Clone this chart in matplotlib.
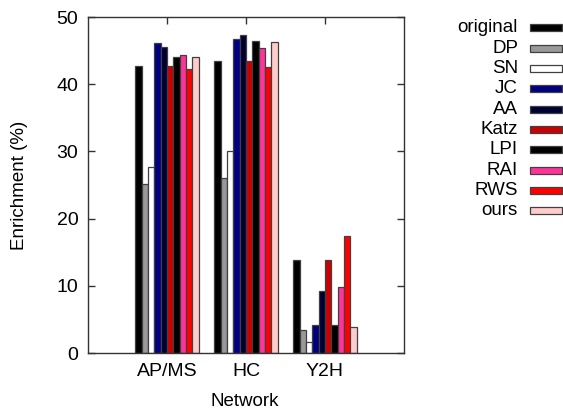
import numpy as np
import matplotlib
matplotlib.use('Agg')
import matplotlib.pyplot as plt
from matplotlib.patches import Rectangle

plt.rcParams['font.family'] = ['Liberation Sans', 'DejaVu Sans']

# data
networks = ['AP/MS', 'HC', 'Y2H']
methods = ['original', 'DP', 'SN', 'JC', 'AA', 'Katz', 'LPI', 'RAI', 'RWS', 'ours']
colors = ['#000000', '#999999', '#ffffff', '#000080', '#000033',
          '#cc0000', '#000000', '#ff3399', '#ff0000', '#ffcccc']
enrichment = {
    'original': [42.7, 43.4, 13.8],
    'DP':       [25.1, 26.0, 3.4],
    'SN':       [27.7, 30.0, 1.6],
    'JC':       [46.1, 46.8, 4.2],
    'AA':       [45.6, 47.3, 9.2],
    'Katz':     [42.7, 43.4, 13.8],
    'LPI':      [44.1, 46.4, 4.2],
    'RAI':      [44.4, 45.4, 9.8],
    'RWS':      [42.3, 42.5, 17.4],
    'ours':     [44.1, 46.3, 3.8],
}

W, H = 563, 415
fig = plt.figure(figsize=(W / 100, H / 100), dpi=100)
ax = fig.add_axes([88 / W, 1 - 353 / H, 316 / W, 336 / H])

x = np.arange(1, len(networks) + 1)
bw = 0.08
edge = '#404040'
for i, m in enumerate(methods):
    ax.bar(x + (i - 4.5) * bw, enrichment[m], width=bw, color=colors[i],
           edgecolor=edge, linewidth=0.9, zorder=2)

ax.set_xlim(0, 4)
ax.set_ylim(0, 50)
ax.set_xticks(x)
ax.set_xticklabels(networks)
ax.set_yticks(np.arange(0, 51, 10))
ax.tick_params(direction='in', length=5, width=1, color='#333333',
               labelsize=14, top=True, right=True, bottom=False, pad=7)
for s in ax.spines.values():
    s.set_color('#333333')
    s.set_linewidth(1)

fig.text(245 / W, 1 - 401 / H, 'Network', ha='center', va='center', fontsize=13.5)
fig.text(20 / W, 1 - 185 / H, 'Enrichment (%)', ha='center', va='center',
         rotation=90, fontsize=13.5)

# legend: right aligned labels with boxes on the right
for i, m in enumerate(methods):
    yc = 28 + 20.3 * i
    fig.text(518 / W, 1 - yc / H, m, ha='right', va='center', fontsize=13.5)
    fig.patches.append(Rectangle((530 / W, 1 - (yc + 3.5) / H), 32 / W, 7 / H,
                                 transform=fig.transFigure, facecolor=colors[i],
                                 edgecolor=edge, linewidth=0.9))

fig.savefig('out.png', dpi=100)
